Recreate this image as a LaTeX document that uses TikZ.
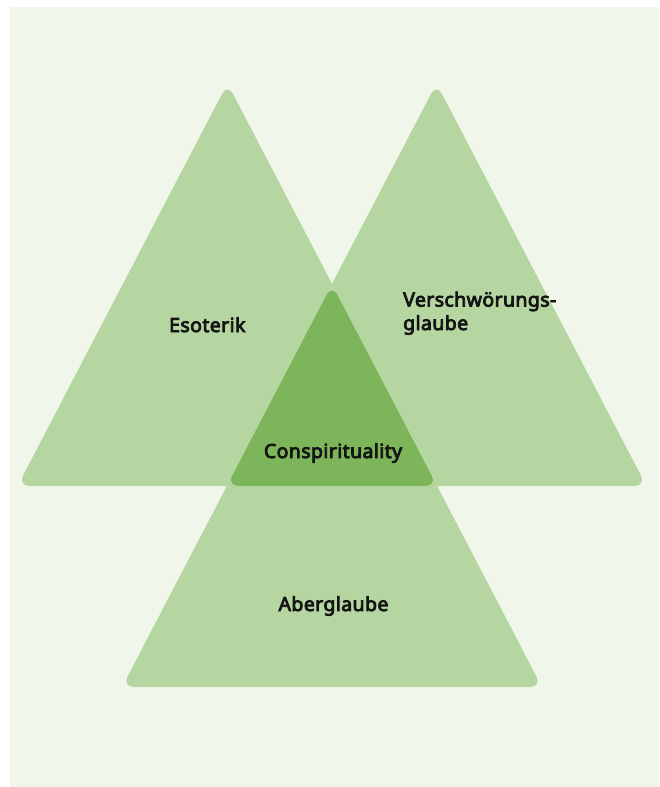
\documentclass[tikz,border=0pt]{standalone}
\usepackage{fontspec}
\setmainfont{Noto Sans}[AutoFakeBold=4, LetterSpace=2]
\usetikzlibrary{positioning}

\definecolor{paper}{HTML}{F0F6EA}
\definecolor{leaf}{HTML}{B5D6A0}
\definecolor{leafdark}{HTML}{7DB65A}

\begin{document}
\begin{tikzpicture}[x=1pt,y=-1pt,
    area/.style={fill=leaf, rounded corners=12pt},
    areatext/.style={font=\bfseries\fontsize{19.5}{23.5}\selectfont, text=black!92, align=left, inner sep=0pt}]
    \useasboundingbox (0,0) rectangle (659,787);
    \fill[paper] (10,7) rectangle (659,787);

    % three equal triangles
    \fill[area] (17.6,486) -- (227.5,83.4) -- (437.4,486) -- cycle;
    \fill[area, shift={(209,0)}] (17.6,486) -- (227.5,83.4) -- (437.4,486) -- cycle;
    \fill[area, shift={(104.5,201)}] (17.6,486) -- (227.5,83.4) -- (437.4,486) -- cycle;

    % common part of all three
    \begin{scope}
        \clip[rounded corners=12pt] (17.6,486) -- (227.5,83.4) -- (437.4,486) -- cycle;
        \clip[rounded corners=12pt, shift={(209,0)}] (17.6,486) -- (227.5,83.4) -- (437.4,486) -- cycle;
        \fill[leafdark, rounded corners=12pt, shift={(104.5,201)}] (17.6,486) -- (227.5,83.4) -- (437.4,486) -- cycle;
    \end{scope}

    \node[areatext, anchor=base west] (eso) at (169,332) {Esoterik};
    \node[areatext, anchor=base west] (vers) at (403,330) {Verschwörungs-\\glaube};
    \node[areatext, anchor=base] (consp) at (333,458) {Conspirituality};
    \node[areatext, anchor=base] (aber) at (333.5,611) {Aberglaube};
\end{tikzpicture}
\end{document}
